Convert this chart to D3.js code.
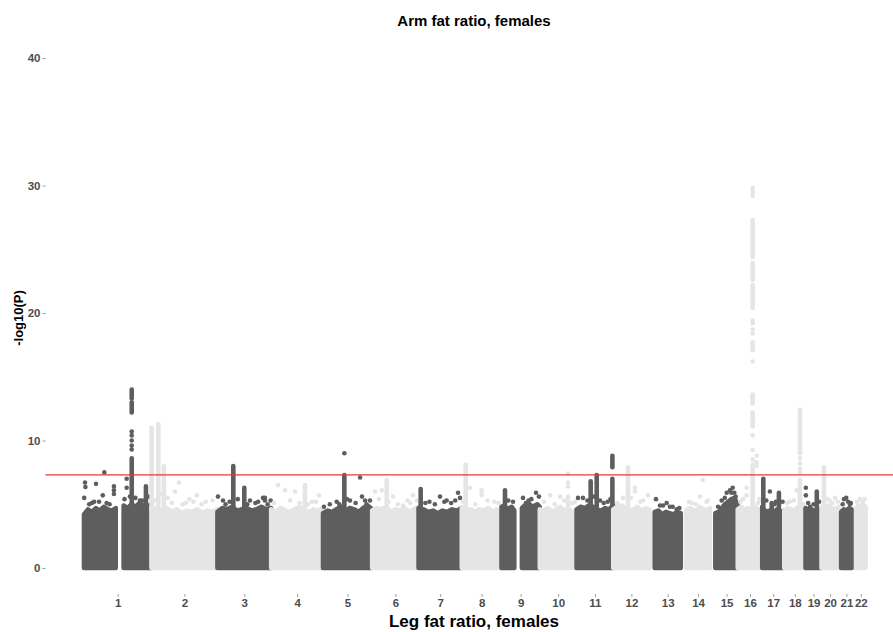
<!DOCTYPE html>
<html><head><meta charset="utf-8">
<script src="https://cdn.jsdelivr.net/npm/d3@7"></script>
<style>body{margin:0;background:#fff}svg{display:block}</style>
</head><body>
<svg id="chart" width="893" height="632"></svg>
<script>
// ---------------- data ----------------
const chromosomes = ["1","2","3","4","5","6","7","8","9","10","11","12","13","14","15","16","17","18","19","20","21","22"];
const chrLength = [249.25,243.20,198.02,191.15,180.92,171.12,159.14,146.36,141.21,135.53,135.01,133.85,115.17,107.35,102.53,90.35,81.20,78.08,59.13,63.03,48.13,51.30];
const chrFirst  = [0.75,0.01,0.06,0.07,0.01,0.2,0.04,0.16,0.2,0.1,0.2,0.2,19.1,20.0,20.1,0.1,0.01,0.01,0.3,0.06,9.4,16.1];
const chrLast   = [249.2,243.0,197.9,191.0,180.8,171.0,159.1,146.3,141.1,135.5,134.9,133.8,115.1,107.3,102.5,90.2,81.1,78.0,59.1,62.9,48.1,51.2];
const gapChr   = ["1","9"];
const gapStart = [121.5,48];
const gapEnd   = [144.5,67];
// top of the dense cloud of SNPs, evenly spaced from first to last SNP (-log10 P)
const envelope = [
  [4.2,4.6,4.4,4.7,4.5,4.8,4.6,4.5,4.7,4.5,4.9,4.7,5.0,4.8,5.1,4.9,4.8,5.0],
  [4.8,4.6,4.5,4.7,4.4,4.6,4.3,4.5,4.4,4.6,4.3,4.5,4.4,4.6],
  [4.4,4.7,4.6,4.8,4.5,4.6,4.7,4.5,4.6,4.8,4.6,4.7],
  [4.6,4.4,4.7,4.5,4.4,4.6,4.8,4.5,4.4,4.6,4.5,4.7],
  [4.3,4.5,4.4,4.6,4.8,4.5,4.7,4.6,4.4,4.7,4.9,4.6],
  [4.5,4.7,4.6,4.8,4.4,4.6,4.5,4.7,4.4,4.6,4.8],
  [4.7,4.6,4.4,4.5,4.3,4.5,4.4,4.6,4.5,4.7],
  [4.7,4.5,4.6,4.4,4.6,4.5,4.7,4.4,4.6,4.5],
  [4.8,4.9,4.6,4.7,4.8,4.5,4.6,4.6,4.7,4.9,4.8,5.0,4.8,4.9,5.0,4.8],
  [4.6,4.5,4.7,4.4,4.6,4.8,4.5,4.6,4.4,4.5],
  [4.6,4.8,4.7,4.9,4.8,4.6,4.5,4.7,4.6,4.9],
  [4.6,4.8,4.9,4.7,4.5,4.6,4.8,4.5,4.7,4.6],
  [4.4,4.5,4.2,4.4,4.3,4.2,4.4,4.3],
  [4.5,4.7,4.6,4.4,4.8,4.6,4.5,4.7],
  [4.3,4.4,4.7,5.0,5.2,5.4,5.5,4.9],
  [4.6,4.8,4.5,4.7,4.6,4.8,4.5,4.7],
  [4.8,4.4,4.5,4.3,4.6,4.4,4.5],
  [4.5,4.7,4.6,4.5,4.8,4.6,4.5],
  [4.7,4.5,4.6,4.4,4.6,4.5],
  [4.8,4.6,4.9,4.7,4.6,4.8],
  [4.4,4.6,4.5,4.7,4.6],
  [4.7,4.9,4.8,5.0,4.8]
];
// dense vertical stacks of SNPs: [chr, position Mb, low, high]
const stacks = [
  [1,176.6,4.5,8.6],[1,176.6,12.2,13.0],[1,176.6,13.3,14.0],[1,229,4.5,6.4],
  [2,0.7,4.5,11.0],[2,25.4,4.5,11.3],[2,46,4.5,8.0],
  [3,58.5,4.5,8.0],[3,99,4.5,6.3],
  [4,124.5,4.5,6.5],
  [5,78.5,4.4,7.3],
  [6,53.8,4.5,6.9],
  [7,7.8,4.6,6.2],
  [8,14.5,4.5,8.1],
  [9,13,4.8,6.1],
  [10,104,4.5,5.6],
  [11,52,4.7,6.8],[11,74.2,4.8,7.3],[11,132,4.6,7.0],[11,132,7.9,8.8],
  [12,54.4,4.8,7.9],
  [16,55,4.6,7.8],[16,55,11.1,12.2],[16,55,12.9,13.6],[16,55,17.1,17.7],[16,55,20.4,22.2],[16,55,22.6,23.9],[16,55,24.4,27.3],
  [17,3.9,4.8,7.0],[17,61.4,4.5,5.9],[17,34.8,4.4,5.1],
  [18,57.8,4.5,6.9],[18,57.8,9.0,12.4],
  [19,41.7,4.5,6.0],
  [20,9,4.8,7.9]
];
// individual SNPs standing out: [chr, position Mb, -log10 P]
const snps = [
  [1,4.5,6.7],[1,6,6.35],[1,1.5,5.5],[1,45,6.6],[1,75.6,7.5],[1,70,5.7],[1,111,6.4],[1,111,6.1],[1,111,5.8],[1,30,5.1],[1,84,5.1],[1,56,5.2],
  [1,176.6,10.7],[1,176.6,10.4],[1,176.6,10.0],[1,176.6,9.6],[1,176.6,9.3],[1,158,7.0],[1,158,6.3],[1,207,5.3],
  [1,20,5.0],[1,38,5.2],[1,95,5.0],[1,150,5.4],[1,190,5.5],[1,215,5.3],[1,240,5.6],[1,170,5.6],
  [2,101,6.7],[2,87,6.0],[2,127.6,5.1],[2,167,5.7],[2,140,5.4],[2,200,5.2],[2,60,5.5],
  [2,15,5.3],[2,35,5.8],[2,75,5.1],[2,115,5.0],[2,155,5.2],[2,185,5.0],[2,225,5.3],
  [3,2,5.6],[3,20.6,5.3],[3,120,5.3],[3,168,5.5],[3,196,5.3],[3,175,5.5],[3,175,5.3],[3,140,5.1],[3,30,5.0],
  [3,45,5.2],[3,75,5.4],[3,110,5.0],[3,150,5.2],[3,185,5.0],
  [4,25.5,6.5],[4,51,6.1],[4,88,6.0],[4,176,5.7],[4,150,5.2],[4,10,5.1],[4,70,5.3],[4,105,5.1],[4,135,5.0],[4,165,5.2],
  [5,78.5,9.0],[5,136.5,7.1],[5,3.4,4.8],[5,50.4,5.2],[5,99.4,5.3],[5,143.6,5.6],[5,173,5.3],[5,160,5.0],[5,60,5.0],
  [5,25,5.0],[5,88,5.4],[5,120,5.1],[5,155,5.3],
  [6,10.5,6.0],[6,35.3,6.1],[6,77,5.6],[6,150.7,5.7],[6,113.8,4.9],[6,130,5.3],[6,25,5.4],[6,60,5.2],[6,95,5.0],[6,140,5.1],[6,165,5.3],
  [7,79,5.6],[7,103.7,5.3],[7,145.4,5.9],[7,152.7,5.5],[7,40,5.2],[7,120,5.1],[7,25,5.1],[7,60,5.0],[7,95,5.2],[7,135,5.3],
  [8,30.4,6.3],[8,73.5,6.1],[8,73.5,5.9],[8,73.5,5.7],[8,120,5.2],[8,5,5.2],[8,50,5.0],[8,95,5.3],[8,135,5.1],
  [9,42.5,5.2],[9,79.4,5.5],[9,127.3,5.9],[9,138,5.6],[9,100,5.3],[9,25,5.3],[9,110,5.4],[9,90,5.1],
  [10,104,7.4],[10,104,6.7],[10,104,6.4],[10,38.2,5.7],[10,75,5.6],[10,120,5.1],[10,15,5.2],[10,55,5.0],[10,90,5.3],[10,130,5.2],
  [11,5.3,5.5],[11,23.7,5.5],[11,114.7,5.2],[11,86.3,5.3],[11,40,5.3],[11,65,5.6],[11,100,5.1],[11,125,5.4],
  [12,80,6.3],[12,80,6.0],[12,35.9,5.5],[12,128,5.7],[12,100,5.2],[12,15,5.1],[12,65,5.5],[12,110,5.3],
  [13,23.8,5.4],[13,38.6,4.9],[13,63.2,5.1],[13,85.3,4.8],[13,100,4.6],[13,50,4.9],[13,75,4.8],[13,110,4.7],
  [14,80.7,6.9],[14,70.8,5.6],[14,40,5.1],[14,95,5.2],[14,30,5.2],[14,55,5.0],[14,100,5.3],
  [15,84,6.3],[15,74,6.1],[15,62,5.9],[15,43.5,5.3],[15,30,4.8],[15,79,5.9],[15,90,5.9],[15,95,5.6],[15,55,5.5],
  [16,55,29.8],[16,55,29.5],[16,55,29.2],[16,55,19.4],[16,55,19.2],[16,55,18.7],[16,55,18.4],[16,55,16.2],[16,55,10.4],[16,55,9.25],[16,55,8.5],[16,55,8.1],
  [16,69.9,8.8],[16,69.9,8.3],[16,69.9,8.0],[16,33,6.3],[16,33,5.7],[16,80,5.4],[16,10,5.2],[16,20,5.4],[16,75,5.1],[16,88,5.3],
  [17,28.2,6.0],[17,50,5.2],[17,15,5.3],[17,45,5.0],[17,75,5.2],
  [18,57.8,8.6],[18,57.8,8.2],[18,57.8,7.8],[18,57.8,7.5],[18,45.6,6.1],[18,20,5.2],[18,10,5.1],[18,35,5.3],[18,70,5.0],
  [19,1.4,6.3],[19,1.5,5.7],[19,16.5,4.8],[19,30,5.0],[19,50,5.2],[19,10,5.1],
  [20,30,5.3],[20,50,5.5],[20,20,5.4],[20,40,5.1],[20,60,5.2],
  [21,20,5.4],[21,28,5.5],[21,35,5.2],[21,42,5.0],[21,15,5.0],[21,45,5.1],
  [22,30,5.4],[22,40,5.2],[22,20,5.2],[22,48,5.4]
];
const yTicks = [0,10,20,30,40];
const gwsThreshold = -Math.log10(5e-8);
const colors = ["#5e5e5e","#e5e5e5"];
const titleText = "Arm fat ratio, females";
const xTitle = "Leg fat ratio, females";
const yTitle = "-log10(P)";

// ---------------- layout ----------------
const svg = d3.select("#chart");
const font = "'Liberation Sans', Arial, Helvetica, sans-serif";
const R = 2.3;
const cumStart = [0, ...d3.cumsum(chrLength)].slice(0, chrLength.length);
const total = d3.sum(chrLength);
const x = d3.scaleLinear().domain([0, total]).range([83.8, 865.6]);
const y = d3.scaleLinear().domain([0, 40]).range([568, 58]);
const panelLeft = 45.5, panelRight = 893, panelBottom = 594;
const idx = c => chromosomes.indexOf(String(c));
const colorOf = i => colors[i % 2];

const g = svg.append("g");
chromosomes.forEach((c, i) => {
  const env = envelope[i];
  const n = env.length;
  const gi = gapChr.indexOf(c);
  const pts = env.map((v, k) => ({pos: chrFirst[i] + (chrLast[i] - chrFirst[i]) * k / (n - 1), v}));
  const area = d3.area()
    .defined(d => gi < 0 || d.pos < gapStart[gi] || d.pos > gapEnd[gi])
    .x(d => x(cumStart[i] + d.pos)).y0(y(0)).y1(d => y(d.v));
  g.append("path").attr("d", area(pts))
    .attr("fill", colorOf(i)).attr("stroke", colorOf(i))
    .attr("stroke-width", 2 * R).attr("stroke-linejoin", "round");
  stacks.filter(s => idx(s[0]) === i).forEach(s => {
    g.append("line")
      .attr("x1", x(cumStart[i] + s[1])).attr("x2", x(cumStart[i] + s[1]))
      .attr("y1", y(s[2])).attr("y2", y(s[3]))
      .attr("stroke", colorOf(i)).attr("stroke-width", 2 * R).attr("stroke-linecap", "round");
  });
  g.selectAll(null).data(snps.filter(s => idx(s[0]) === i)).enter().append("circle")
    .attr("cx", s => x(cumStart[i] + s[1])).attr("cy", s => y(s[2])).attr("r", R)
    .attr("fill", colorOf(i));
});

// threshold line
svg.append("line").attr("x1", panelLeft).attr("x2", panelRight)
  .attr("y1", y(gwsThreshold)).attr("y2", y(gwsThreshold))
  .attr("stroke", "#e53935").attr("stroke-width", 1.1);

// axes
const tickPos = chromosomes.map((c, i) => cumStart[i] + (chrFirst[i] + chrLast[i]) / 2);
const xAxis = svg.append("g").attr("transform", `translate(0,${panelBottom})`)
  .call(d3.axisBottom(x).tickValues(tickPos).tickFormat((d, i) => chromosomes[i]).tickSize(3).tickPadding(2));
const yAxis = svg.append("g").attr("transform", `translate(${panelLeft},0)`)
  .call(d3.axisLeft(y).tickValues(yTicks).tickSize(3).tickPadding(2));
[xAxis, yAxis].forEach(a => {
  a.select(".domain").remove();
  a.selectAll(".tick line").attr("stroke", "#777").attr("stroke-width", 0.7);
  a.selectAll(".tick text").attr("fill", "#4d4d4d").style("font-family", font)
    .style("font-size", "11.5px").style("font-weight", "bold");
});

// titles
svg.append("text").attr("x", 474).attr("y", 26).attr("text-anchor", "middle")
  .style("font-family", font).style("font-size", "15px").style("font-weight", "bold")
  .attr("fill", "#000").text(titleText);
svg.append("text").attr("x", 474).attr("y", 627).attr("text-anchor", "middle")
  .style("font-family", font).style("font-size", "17px").style("font-weight", "bold")
  .attr("fill", "#000").text(xTitle);
svg.append("text").attr("transform", "translate(22.5,318) rotate(-90)").attr("text-anchor", "middle")
  .style("font-family", font).style("font-size", "13px").style("font-weight", "bold")
  .attr("fill", "#000").text(yTitle);
</script>
</body></html>
